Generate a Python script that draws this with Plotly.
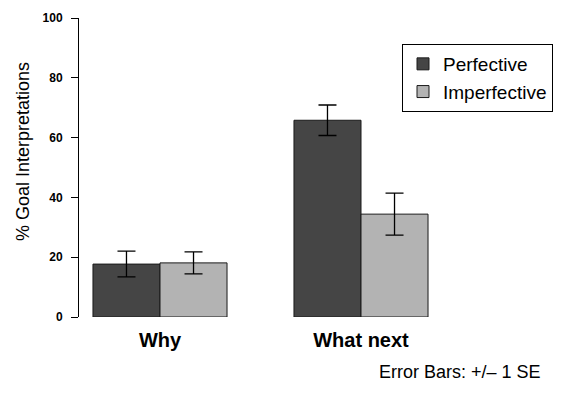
import plotly.graph_objects as go

# values
questions = ['Why', 'What next']
perfective = [17.7, 65.8]
perfective_se = [4.3, 5.1]
imperfective = [18.1, 34.4]
imperfective_se = [3.7, 7.0]
y_ticks = [0, 20, 40, 60, 80, 100]

font = 'Liberation Sans, Arial, sans-serif'

# page body adds an 8px margin, so the figure is laid out 8px smaller
W, H = 545, 384
L, T, B = 71, 10, 75
plot_w = W - L
plot_h = H - T - B

fig = go.Figure()
fig.add_trace(go.Bar(
    x=questions, y=perfective, name='Perfective',
    marker=dict(color='#454545', line=dict(color='#1a1a1a', width=1)),
    error_y=dict(type='data', array=perfective_se, color='black', thickness=1.3, width=9),
))
fig.add_trace(go.Bar(
    x=questions, y=imperfective, name='Imperfective',
    marker=dict(color='#b3b3b3', line=dict(color='#1a1a1a', width=1)),
    error_y=dict(type='data', array=imperfective_se, color='black', thickness=1.3, width=9),
))

fig.add_annotation(
    text='Error Bars: +/\u2013 1 SE', xref='paper', yref='paper',
    x=464 / plot_w, y=-55 / plot_h, xanchor='right', yanchor='middle',
    showarrow=False, font=dict(family=font, size=18, color='black'),
)
fig.add_annotation(
    text='% Goal Interpretations', xref='paper', yref='paper', textangle=-90,
    x=0, xshift=-56, y=165 / plot_h, xanchor='center', yanchor='middle',
    showarrow=False, font=dict(family=font, size=18, color='black'),
)

fig.update_layout(
    width=W, height=H,
    margin=dict(l=L, r=0, t=T, b=B),
    plot_bgcolor='white', paper_bgcolor='white',
    font=dict(family=font, color='black'),
    barmode='group', bargap=0.333, bargroupgap=0,
    showlegend=True,
    legend=dict(
        x=323 / plot_w, y=273 / plot_h, xanchor='left', yanchor='top',
        bordercolor='black', borderwidth=1, bgcolor='white',
        font=dict(family=font, size=19), tracegroupgap=0,
    ),
    xaxis=dict(
        range=[-81 / 201, (plot_w - 81) / 201], showline=False, showgrid=False, zeroline=False,
        ticks='outside', ticklen=5, tickcolor='rgba(0,0,0,0)',
        tickfont=dict(family=font, size=20, color='black', weight='bold'),
    ),
    yaxis=dict(
        range=[0, 100], tickvals=y_ticks, showline=True, linecolor='black', linewidth=1,
        showgrid=False, zeroline=False, ticks='outside', ticklen=7, tickcolor='black',
        ticklabelstandoff=6,
        tickfont=dict(family=font, size=12, color='black', weight='bold'),
    ),
)

fig.write_html('out.html')
